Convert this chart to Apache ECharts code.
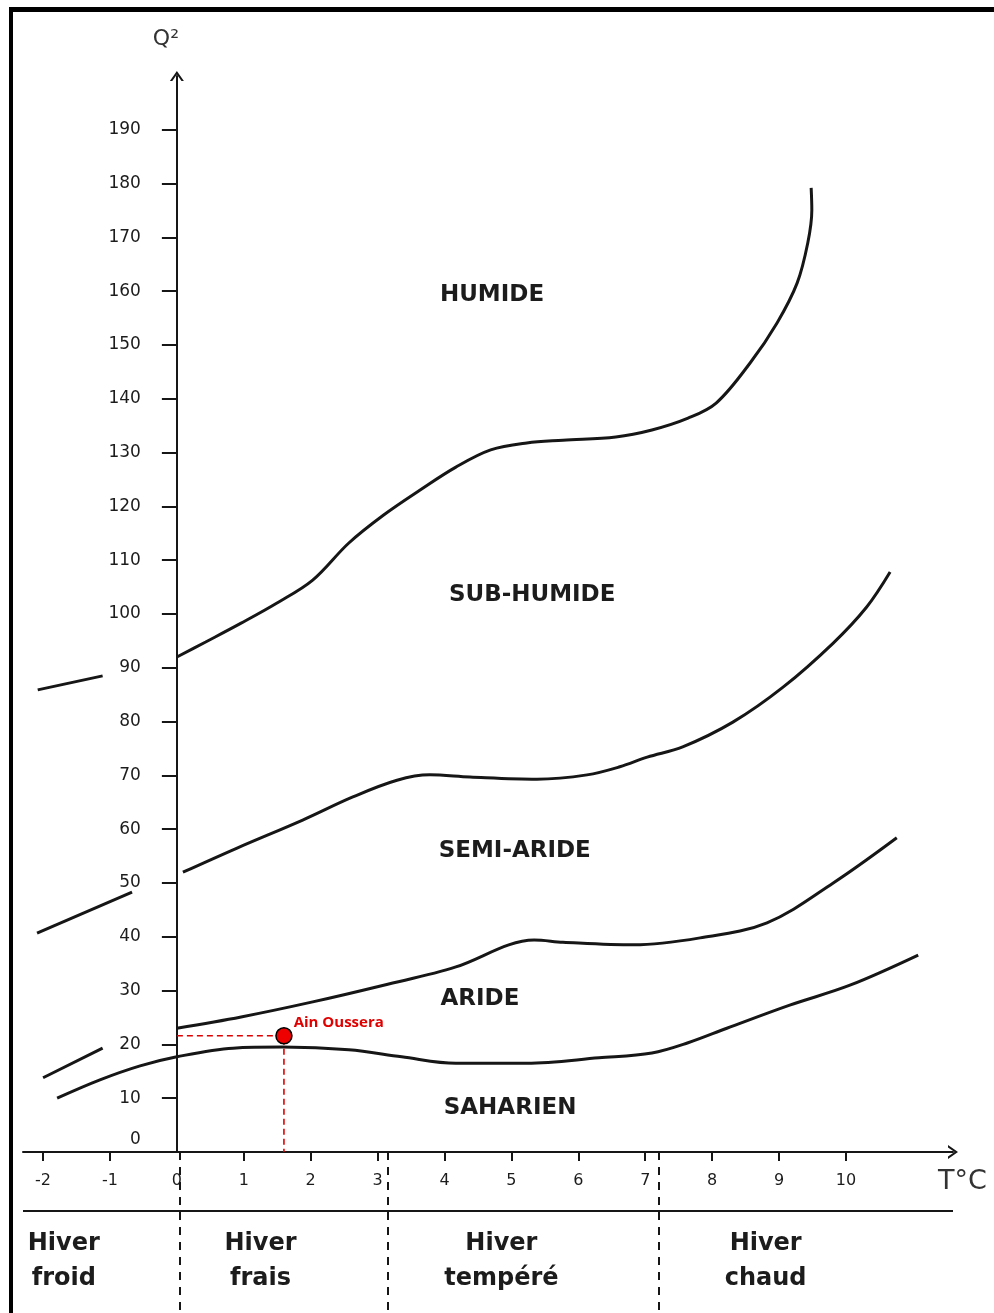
<!DOCTYPE html>
<html>
<head>
<meta charset="utf-8">
<title>Climagramme d'Emberger</title>
<script src="https://cdn.jsdelivr.net/npm/echarts@6/dist/echarts.min.js"></script>
<style>
  html, body { margin: 0; padding: 0; background: #fff; }
  body { position: relative; width: 994px; height: 1313px; overflow: hidden; }
  #frame { position: absolute; left: 9px; top: 7px; width: 1000px; height: 1320px;
           border-left: 4px solid #000; border-top: 5px solid #000; box-sizing: border-box; }
  #chart { position: absolute; left: 0; top: 0; width: 994px; height: 1313px; }
</style>
</head>
<body>
<div id="frame"></div>
<div id="chart"></div>
<script>
// Climagramme d'Emberger : quotient pluviothermique Q2 en fonction de m (°C)

// Graduations
const tickT = [-2, -1, 0, 1, 2, 3, 4, 5, 6, 7, 8, 9, 10];
const tickQ = [0, 10, 20, 30, 40, 50, 60, 70, 80, 90, 100, 110, 120, 130, 140, 150, 160, 170, 180, 190];

// Limite humide / subhumide
const humideLeftT = [-2.08, -1.11];
const humideLeftQ = [85.9, 88.5];
const humideT = [0, 0.43, 0.96, 1.49, 2.03, 2.57, 3.09, 3.63, 4.17, 4.69, 5.23, 5.77, 6.56, 7.10, 7.64, 8.06, 8.57, 8.97, 9.27, 9.43, 9.49, 9.48];
const humideQ = [92.0, 94.8, 98.3, 102.0, 106.3, 113.2, 118.4, 123.0, 127.3, 130.5, 131.8, 132.3, 132.9, 134.2, 136.4, 139.2, 146.7, 154.1, 161.5, 169.0, 175.1, 179.2];

// Limite subhumide / semi-aride
const subHumideLeftT = [-2.09, -0.67];
const subHumideLeftQ = [40.7, 48.3];
const subHumideT = [0.09, 0.90, 1.88, 2.63, 3.29, 3.78, 4.38, 5.38, 6.13, 6.62, 7.03, 7.56, 8.31, 9.06, 9.81, 10.31, 10.66];
const subHumideQ = [52.0, 56.5, 61.7, 66.0, 69.1, 70.1, 69.7, 69.3, 70.1, 71.6, 73.4, 75.3, 79.9, 86.4, 94.6, 101.3, 107.8];

// Limite semi-aride / aride
const semiAridLeftT = [-2.0, -1.11];
const semiAridLeftQ = [13.8, 19.3];
const semiAridT = [0, 0.96, 2.03, 3.09, 4.17, 4.96, 5.34, 5.77, 6.83, 7.82, 8.82, 9.81, 10.76];
const semiAridQ = [23.0, 25.1, 27.9, 31.0, 34.4, 38.5, 39.4, 39.0, 38.5, 39.8, 42.6, 50.0, 58.4];

// Limite aride / saharien
const aridT = [-1.79, -1.15, -0.55, 0, 0.84, 1.58, 2.57, 3.36, 4.17, 5.23, 6.31, 7.10, 7.64, 8.22, 9.16, 10.06, 11.08];
const aridQ = [10.0, 13.4, 16.0, 17.7, 19.3, 19.5, 19.0, 17.7, 16.5, 16.5, 17.5, 18.4, 20.3, 23.0, 27.3, 31.0, 36.6];

// Station
const stationName = ['Ain Oussera'];
const stationT = [1.6];
const stationQ = [21.6];

// Étages bioclimatiques
const zoneNames = ['HUMIDE', 'SUB-HUMIDE', 'SEMI-ARIDE', 'ARIDE', 'SAHARIEN'];
const zoneT = [4.71, 5.31, 5.05, 4.53, 4.98];
const zoneQ = [159.3, 103.5, 55.9, 28.4, 8.2];

// Variantes thermiques (bandeau inférieur)
const winterNames = ['Hiver\nfroid', 'Hiver\nfrais', 'Hiver\ntempéré', 'Hiver\nchaud'];
const winterT = [-1.69, 1.25, 4.85, 8.8];
const winterBounds = [0.05, 3.15, 7.2];
const bandRule = 1.1;   // trait horizontal du bandeau
const bandText = 2.04;  // ligne des libellés

// Mise en page
const W = 994;
const GRID_LEFT = 23, GRID_RIGHT = 41;
const T_MIN = -2.3, T_MAX = 11.6;
const PLOT_W = W - GRID_LEFT - GRID_RIGHT;
// l'axe des Q2 passe par m = 0 : décalage depuis le bord gauche de la grille
const Y_AXIS_SHIFT = -(0 - T_MIN) / (T_MAX - T_MIN) * PLOT_W;

const zip = (xs, ys) => xs.map((x, i) => [x, ys[i]]);
const ARROW = 'path://M0,10 L7,0 L14,10 L11.6,10 L7,3.4 L2.4,10 Z';
const INK = '#161616';
const TXT = '#1c1c1c';

const curveStyle = {
  type: 'line', xAxisIndex: 0, yAxisIndex: 0, showSymbol: false, silent: true,
  smooth: 0.35, lineStyle: { color: INK, width: 3 }
};

const chart = echarts.init(document.getElementById('chart'), null, { renderer: 'canvas' });
chart.setOption({
  animation: false,
  grid: [
    { left: GRID_LEFT, right: GRID_RIGHT, top: 76, bottom: 161, outerBoundsMode: 'none', containLabel: false },
    { left: GRID_LEFT, right: GRID_RIGHT, top: 1152, bottom: 0, outerBoundsMode: 'none', containLabel: false }
  ],
  xAxis: [
    {
      type: 'value', gridIndex: 0, min: T_MIN, max: T_MAX,
      axisLine: { show: true, onZero: false, symbol: ['none', ARROW], symbolSize: [14, 10],
                  lineStyle: { color: INK, width: 2 } },
      axisTick: { show: true, inside: false, length: 9, customValues: tickT.filter(v => v !== 0),
                  lineStyle: { color: INK, width: 2 } },
      axisLabel: { show: true, customValues: tickT, margin: 21, fontSize: 16,
                   fontFamily: 'DejaVu Sans', color: TXT },
      splitLine: { show: false },
      name: 'T°C', nameLocation: 'end', nameGap: -15,
      nameTextStyle: { fontSize: 27, color: '#333', fontFamily: 'DejaVu Sans',
                       align: 'left', verticalAlign: 'top', padding: [16, 0, 0, 0] }
    },
    {
      type: 'value', gridIndex: 1, min: T_MIN, max: T_MAX, show: false
    }
  ],
  yAxis: [
    {
      type: 'value', gridIndex: 0, min: 0, max: 200, position: 'left', offset: Y_AXIS_SHIFT,
      axisLine: { show: true, onZero: false, symbol: ['none', ARROW], symbolSize: [14, 10],
                  lineStyle: { color: INK, width: 2 } },
      axisTick: { show: true, inside: false, length: 15, customValues: tickQ.filter(v => v !== 0),
                  lineStyle: { color: INK, width: 2 } },
      axisLabel: {
        show: true, customValues: tickQ, margin: 36, fontSize: 17,
        fontFamily: 'DejaVu Sans', color: TXT,
        formatter: v => (v === 0 ? '{z|0}' : String(v)),
        rich: { z: { fontSize: 17, fontFamily: 'DejaVu Sans', color: TXT, padding: [0, 0, 24, 0] } }
      },
      splitLine: { show: false },
      name: 'Q²', nameLocation: 'end', nameGap: 26,
      nameTextStyle: { fontSize: 22, color: '#333', fontFamily: 'DejaVu Sans', padding: [0, 22, 0, 0] }
    },
    {
      type: 'value', gridIndex: 1, min: 0, max: 3, inverse: true, show: false
    }
  ],
  series: [
    Object.assign({ name: 'Humide / Sub-humide (m < -1)', data: zip(humideLeftT, humideLeftQ) }, curveStyle),
    Object.assign({ name: 'Humide / Sub-humide', data: zip(humideT, humideQ) }, curveStyle),
    Object.assign({ name: 'Sub-humide / Semi-aride (m < -1)', data: zip(subHumideLeftT, subHumideLeftQ) }, curveStyle),
    Object.assign({ name: 'Sub-humide / Semi-aride', data: zip(subHumideT, subHumideQ) }, curveStyle),
    Object.assign({ name: 'Semi-aride / Aride (m < -1)', data: zip(semiAridLeftT, semiAridLeftQ) }, curveStyle),
    Object.assign({ name: 'Semi-aride / Aride', data: zip(semiAridT, semiAridQ) }, curveStyle),
    Object.assign({ name: 'Aride / Saharien', data: zip(aridT, aridQ) }, curveStyle),
    {
      // repères pointillés de la station
      name: 'repères', type: 'line', xAxisIndex: 0, yAxisIndex: 0, silent: true, showSymbol: false,
      data: [[0, stationQ[0]], [stationT[0], stationQ[0]], [stationT[0], 0]],
      lineStyle: { color: '#e00000', width: 1.6, type: [6, 4] }, z: 3
    },
    {
      name: 'station', type: 'scatter', xAxisIndex: 0, yAxisIndex: 0, silent: true,
      data: zip(stationT, stationQ).map((p, i) => ({ value: p, name: stationName[i] })),
      symbol: 'circle', symbolSize: 16, z: 5,
      itemStyle: { color: '#ee0000', borderColor: '#000', borderWidth: 1.5, opacity: 1 },
      label: { show: true, formatter: p => p.name, position: 'right', distance: 1, offset: [0, -13],
               color: '#e00000', fontWeight: 'bold', fontSize: 15, fontFamily: 'Open Sans',
               textBorderWidth: 0 }
    },
    {
      name: 'étages', type: 'scatter', xAxisIndex: 0, yAxisIndex: 0, silent: true, symbolSize: 0,
      itemStyle: { opacity: 1 },
      data: zip(zoneT, zoneQ).map((p, i) => ({ value: p, name: zoneNames[i] })),
      label: { show: true, position: 'inside', formatter: p => p.name, fontSize: 23, fontWeight: 'bold',
               fontFamily: 'DejaVu Sans', color: TXT, textBorderWidth: 0, textBorderColor: 'transparent' }
    },
    {
      name: 'variantes', type: 'scatter', xAxisIndex: 1, yAxisIndex: 1, silent: true, symbolSize: 0,
      itemStyle: { opacity: 1 },
      data: winterT.map((t, i) => ({ value: [t, bandText], name: winterNames[i] })),
      label: { show: true, position: 'inside', formatter: p => p.name, fontSize: 24, fontWeight: 'bold',
               lineHeight: 35, align: 'center', fontFamily: 'DejaVu Sans', color: TXT,
               textBorderWidth: 0, textBorderColor: 'transparent' },
      markLine: {
        silent: true, symbol: 'none', label: { show: false },
        data: winterBounds.map(t => ({ xAxis: t, lineStyle: { color: INK, width: 2, type: [8, 7] } }))
          .concat([{ yAxis: bandRule, lineStyle: { color: INK, width: 2, type: 'solid' } }])
      }
    }
  ]
});
</script>
</body>
</html>
